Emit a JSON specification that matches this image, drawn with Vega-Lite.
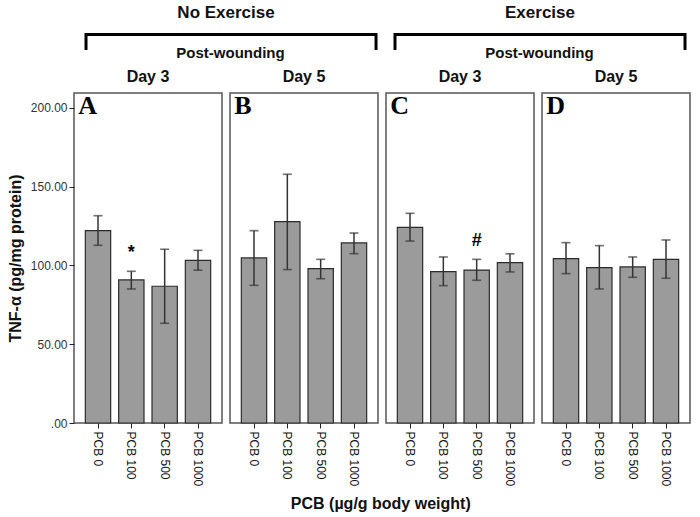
{
  "$schema": "https://vega.github.io/schema/vega-lite/v6.json",
  "padding": {"left": 6, "top": 3, "right": 5, "bottom": 5},
  "background": "white",
  "config": {
    "font": "Liberation Sans",
    "view": {"stroke": "#555555", "strokeWidth": 1.5},
    "axis": {"labelFont": "Liberation Sans", "labelFontSize": 12, "labelColor": "#111111", "tickColor": "#222222", "domain": false, "grid": false, "titleFont": "Liberation Sans", "titleFontSize": 16, "titleFontWeight": "bold", "titleColor": "#111111"},
    "title": {"font": "Liberation Sans", "fontSize": 16, "fontWeight": "bold", "color": "#111111"}
  },
  "datasets": {
    "bars": [
      {"panel": "A", "pcb": "PCB 0", "mean": 122.1, "lo": 112.8, "hi": 131.6, "mark": ""},
      {"panel": "A", "pcb": "PCB 100", "mean": 90.8, "lo": 85.1, "hi": 96.3, "mark": "*"},
      {"panel": "A", "pcb": "PCB 500", "mean": 86.8, "lo": 63.3, "hi": 110.3, "mark": ""},
      {"panel": "A", "pcb": "PCB 1000", "mean": 103.3, "lo": 97.0, "hi": 109.6, "mark": ""},
      {"panel": "B", "pcb": "PCB 0", "mean": 104.8, "lo": 87.4, "hi": 122.1, "mark": ""},
      {"panel": "B", "pcb": "PCB 100", "mean": 127.8, "lo": 97.4, "hi": 157.9, "mark": ""},
      {"panel": "B", "pcb": "PCB 500", "mean": 98.0, "lo": 91.6, "hi": 103.9, "mark": ""},
      {"panel": "B", "pcb": "PCB 1000", "mean": 114.3, "lo": 107.5, "hi": 120.6, "mark": ""},
      {"panel": "C", "pcb": "PCB 0", "mean": 124.2, "lo": 115.5, "hi": 133.1, "mark": ""},
      {"panel": "C", "pcb": "PCB 100", "mean": 96.1, "lo": 87.2, "hi": 105.4, "mark": ""},
      {"panel": "C", "pcb": "PCB 500", "mean": 97.1, "lo": 90.6, "hi": 103.9, "mark": "#"},
      {"panel": "C", "pcb": "PCB 1000", "mean": 101.8, "lo": 95.9, "hi": 107.4, "mark": ""},
      {"panel": "D", "pcb": "PCB 0", "mean": 104.3, "lo": 94.8, "hi": 114.5, "mark": ""},
      {"panel": "D", "pcb": "PCB 100", "mean": 98.6, "lo": 85.1, "hi": 112.6, "mark": ""},
      {"panel": "D", "pcb": "PCB 500", "mean": 99.1, "lo": 92.5, "hi": 105.4, "mark": ""},
      {"panel": "D", "pcb": "PCB 1000", "mean": 103.9, "lo": 91.9, "hi": 116.2, "mark": ""}
    ],
    "headers": [
      {"kind": "group", "label": "No Exercise", "hx": 0.2468, "hy": 0.89},
      {"kind": "group", "label": "Exercise", "hx": 0.7565, "hy": 0.89},
      {"kind": "sub", "label": "Post-wounding", "hx": 0.254, "hy": 0.445},
      {"kind": "sub", "label": "Post-wounding", "hx": 0.7557, "hy": 0.445}
    ],
    "brackets": [
      {"grp": "No Exercise", "seq": 1, "bx": 0.0195, "by": 0.478},
      {"grp": "No Exercise", "seq": 2, "bx": 0.0195, "by": 0.65},
      {"grp": "No Exercise", "seq": 3, "bx": 0.4903, "by": 0.65},
      {"grp": "No Exercise", "seq": 4, "bx": 0.4903, "by": 0.478},
      {"grp": "Exercise", "seq": 1, "bx": 0.5211, "by": 0.478},
      {"grp": "Exercise", "seq": 2, "bx": 0.5211, "by": 0.65},
      {"grp": "Exercise", "seq": 3, "bx": 0.9919, "by": 0.65},
      {"grp": "Exercise", "seq": 4, "bx": 0.9919, "by": 0.478}
    ]
  },
  "title": {"text": "PCB (µg/g body weight)", "orient": "bottom", "anchor": "middle", "fontSize": 16, "fontWeight": "bold", "offset": 10, "dx": 32},
  "bounds": "flush",
  "spacing": 0,
  "vconcat": [
    {
      "width": 616,
      "height": 90,
      "view": {"stroke": null},
      "layer": [
        {
          "data": {"name": "headers"},
          "transform": [{"filter": "datum.kind === 'group'"}],
          "mark": {"type": "text", "fontSize": 17, "fontWeight": "bold", "baseline": "middle", "color": "#111111"},
          "encoding": {
            "x": {"field": "hx", "type": "quantitative", "scale": {"domain": [0, 1], "nice": false, "zero": false}, "axis": null},
            "y": {"field": "hy", "type": "quantitative", "scale": {"domain": [0, 1], "nice": false, "zero": false}, "axis": null},
            "text": {"field": "label"}
          }
        },
        {
          "data": {"name": "headers"},
          "transform": [{"filter": "datum.kind === 'sub'"}],
          "mark": {"type": "text", "fontSize": 15, "fontWeight": "bold", "baseline": "middle", "color": "#111111"},
          "encoding": {
            "x": {"field": "hx", "type": "quantitative", "scale": {"domain": [0, 1], "nice": false, "zero": false}, "axis": null},
            "y": {"field": "hy", "type": "quantitative", "scale": {"domain": [0, 1], "nice": false, "zero": false}, "axis": null},
            "text": {"field": "label"}
          }
        },
        {
          "data": {"name": "brackets"},
          "mark": {"type": "line", "strokeWidth": 3, "color": "#000000", "strokeJoin": "miter", "strokeCap": "butt"},
          "encoding": {
            "x": {"field": "bx", "type": "quantitative", "scale": {"domain": [0, 1], "nice": false, "zero": false}, "axis": null},
            "y": {"field": "by", "type": "quantitative", "scale": {"domain": [0, 1], "nice": false, "zero": false}, "axis": null},
            "detail": {"field": "grp"},
            "order": {"field": "seq"}
          }
        }
      ]
    },
    {
      "bounds": "flush",
      "spacing": 8,
      "hconcat": [
        {
          "width": 148, "height": 330,
          "title": {"text": "Day 3", "offset": 8},
          "data": {"name": "bars"},
          "transform": [{"filter": "datum.panel === 'A'"}],
          "encoding": {
            "x": {"field": "pcb", "type": "nominal", "sort": ["PCB 0", "PCB 100", "PCB 500", "PCB 1000"], "title": null,
                  "scale": {"paddingInner": 0.24, "paddingOuter": 0.34},
                  "axis": {"labelAngle": 90, "labelAlign": "left", "labelBaseline": "middle", "tickSize": 5, "labelPadding": 3}}
          },
          "layer": [
            {"mark": {"type": "bar", "fill": "#9b9b9b", "stroke": "#2b2b2b", "strokeWidth": 1.2},
             "encoding": {"y": {"field": "mean", "type": "quantitative", "title": "TNF-α (pg/mg protein)", "scale": {"domain": [0, 209.5], "nice": false},
               "axis": {"values": [0, 50, 100, 150, 200], "labelExpr": "datum.value === 0 ? '.00' : format(datum.value, '.2f')", "tickSize": 5, "labelPadding": 2, "titlePadding": 7, "labelColor": "#333333"}}}},
            {"mark": {"type": "rule", "color": "#333333", "strokeWidth": 1.5},
             "encoding": {"y": {"field": "lo", "type": "quantitative", "title": "TNF-α (pg/mg protein)", "scale": {"domain": [0, 209.5], "nice": false}}, "y2": {"field": "hi"}}},
            {"mark": {"type": "tick", "color": "#333333", "thickness": 1.6, "size": 9},
             "encoding": {"y": {"field": "lo", "type": "quantitative", "title": "TNF-α (pg/mg protein)", "scale": {"domain": [0, 209.5], "nice": false}}}},
            {"mark": {"type": "tick", "color": "#333333", "thickness": 1.6, "size": 9},
             "encoding": {"y": {"field": "hi", "type": "quantitative", "title": "TNF-α (pg/mg protein)", "scale": {"domain": [0, 209.5], "nice": false}}}},
            {"transform": [{"filter": "datum.mark !== ''"}],
             "mark": {"type": "text", "fontSize": 18, "fontWeight": "bold", "baseline": "middle", "dy": -18, "color": "#000000"},
             "encoding": {"y": {"field": "hi", "type": "quantitative", "title": "TNF-α (pg/mg protein)", "scale": {"domain": [0, 209.5], "nice": false}}, "text": {"field": "mark"}}},
            {"transform": [{"filter": "datum.pcb === 'PCB 0'"}],
             "mark": {"type": "text", "font": "Liberation Serif", "fontSize": 26, "fontWeight": "bold", "align": "left", "baseline": "top", "dx": -7, "dy": 0, "color": "#000000"},
             "encoding": {"x": {"field": "pcb", "type": "nominal", "bandPosition": 0, "sort": ["PCB 0", "PCB 100", "PCB 500", "PCB 1000"], "title": null},
                          "y": {"datum": 209.5, "type": "quantitative", "scale": {"domain": [0, 209.5], "nice": false}},
                          "text": {"field": "panel"}}}
          ]
        },
        {
          "width": 148, "height": 330,
          "title": {"text": "Day 5", "offset": 8},
          "data": {"name": "bars"},
          "transform": [{"filter": "datum.panel === 'B'"}],
          "encoding": {
            "x": {"field": "pcb", "type": "nominal", "sort": ["PCB 0", "PCB 100", "PCB 500", "PCB 1000"], "title": null,
                  "scale": {"paddingInner": 0.24, "paddingOuter": 0.34},
                  "axis": {"labelAngle": 90, "labelAlign": "left", "labelBaseline": "middle", "tickSize": 5, "labelPadding": 3}}
          },
          "layer": [
            {"mark": {"type": "bar", "fill": "#9b9b9b", "stroke": "#2b2b2b", "strokeWidth": 1.2},
             "encoding": {"y": {"field": "mean", "type": "quantitative", "scale": {"domain": [0, 209.5], "nice": false}, "axis": null}}},
            {"mark": {"type": "rule", "color": "#333333", "strokeWidth": 1.5},
             "encoding": {"y": {"field": "lo", "type": "quantitative", "scale": {"domain": [0, 209.5], "nice": false}, "axis": null}, "y2": {"field": "hi"}}},
            {"mark": {"type": "tick", "color": "#333333", "thickness": 1.6, "size": 9},
             "encoding": {"y": {"field": "lo", "type": "quantitative", "scale": {"domain": [0, 209.5], "nice": false}, "axis": null}}},
            {"mark": {"type": "tick", "color": "#333333", "thickness": 1.6, "size": 9},
             "encoding": {"y": {"field": "hi", "type": "quantitative", "scale": {"domain": [0, 209.5], "nice": false}, "axis": null}}},
            {"transform": [{"filter": "datum.pcb === 'PCB 0'"}],
             "mark": {"type": "text", "font": "Liberation Serif", "fontSize": 26, "fontWeight": "bold", "align": "left", "baseline": "top", "dx": -7, "dy": 0, "color": "#000000"},
             "encoding": {"x": {"field": "pcb", "type": "nominal", "bandPosition": 0, "sort": ["PCB 0", "PCB 100", "PCB 500", "PCB 1000"], "title": null},
                          "y": {"datum": 209.5, "type": "quantitative", "scale": {"domain": [0, 209.5], "nice": false}, "axis": null},
                          "text": {"field": "panel"}}}
          ]
        },
        {
          "width": 148, "height": 330,
          "title": {"text": "Day 3", "offset": 8},
          "data": {"name": "bars"},
          "transform": [{"filter": "datum.panel === 'C'"}],
          "encoding": {
            "x": {"field": "pcb", "type": "nominal", "sort": ["PCB 0", "PCB 100", "PCB 500", "PCB 1000"], "title": null,
                  "scale": {"paddingInner": 0.24, "paddingOuter": 0.34},
                  "axis": {"labelAngle": 90, "labelAlign": "left", "labelBaseline": "middle", "tickSize": 5, "labelPadding": 3}}
          },
          "layer": [
            {"mark": {"type": "bar", "fill": "#9b9b9b", "stroke": "#2b2b2b", "strokeWidth": 1.2},
             "encoding": {"y": {"field": "mean", "type": "quantitative", "scale": {"domain": [0, 209.5], "nice": false}, "axis": null}}},
            {"mark": {"type": "rule", "color": "#333333", "strokeWidth": 1.5},
             "encoding": {"y": {"field": "lo", "type": "quantitative", "scale": {"domain": [0, 209.5], "nice": false}, "axis": null}, "y2": {"field": "hi"}}},
            {"mark": {"type": "tick", "color": "#333333", "thickness": 1.6, "size": 9},
             "encoding": {"y": {"field": "lo", "type": "quantitative", "scale": {"domain": [0, 209.5], "nice": false}, "axis": null}}},
            {"mark": {"type": "tick", "color": "#333333", "thickness": 1.6, "size": 9},
             "encoding": {"y": {"field": "hi", "type": "quantitative", "scale": {"domain": [0, 209.5], "nice": false}, "axis": null}}},
            {"transform": [{"filter": "datum.mark !== ''"}],
             "mark": {"type": "text", "fontSize": 18, "fontWeight": "bold", "baseline": "middle", "dy": -18, "color": "#000000"},
             "encoding": {"y": {"field": "hi", "type": "quantitative", "scale": {"domain": [0, 209.5], "nice": false}, "axis": null}, "text": {"field": "mark"}}},
            {"transform": [{"filter": "datum.pcb === 'PCB 0'"}],
             "mark": {"type": "text", "font": "Liberation Serif", "fontSize": 26, "fontWeight": "bold", "align": "left", "baseline": "top", "dx": -7, "dy": 0, "color": "#000000"},
             "encoding": {"x": {"field": "pcb", "type": "nominal", "bandPosition": 0, "sort": ["PCB 0", "PCB 100", "PCB 500", "PCB 1000"], "title": null},
                          "y": {"datum": 209.5, "type": "quantitative", "scale": {"domain": [0, 209.5], "nice": false}, "axis": null},
                          "text": {"field": "panel"}}}
          ]
        },
        {
          "width": 148, "height": 330,
          "title": {"text": "Day 5", "offset": 8},
          "data": {"name": "bars"},
          "transform": [{"filter": "datum.panel === 'D'"}],
          "encoding": {
            "x": {"field": "pcb", "type": "nominal", "sort": ["PCB 0", "PCB 100", "PCB 500", "PCB 1000"], "title": null,
                  "scale": {"paddingInner": 0.24, "paddingOuter": 0.34},
                  "axis": {"labelAngle": 90, "labelAlign": "left", "labelBaseline": "middle", "tickSize": 5, "labelPadding": 3}}
          },
          "layer": [
            {"mark": {"type": "bar", "fill": "#9b9b9b", "stroke": "#2b2b2b", "strokeWidth": 1.2},
             "encoding": {"y": {"field": "mean", "type": "quantitative", "scale": {"domain": [0, 209.5], "nice": false}, "axis": null}}},
            {"mark": {"type": "rule", "color": "#333333", "strokeWidth": 1.5},
             "encoding": {"y": {"field": "lo", "type": "quantitative", "scale": {"domain": [0, 209.5], "nice": false}, "axis": null}, "y2": {"field": "hi"}}},
            {"mark": {"type": "tick", "color": "#333333", "thickness": 1.6, "size": 9},
             "encoding": {"y": {"field": "lo", "type": "quantitative", "scale": {"domain": [0, 209.5], "nice": false}, "axis": null}}},
            {"mark": {"type": "tick", "color": "#333333", "thickness": 1.6, "size": 9},
             "encoding": {"y": {"field": "hi", "type": "quantitative", "scale": {"domain": [0, 209.5], "nice": false}, "axis": null}}},
            {"transform": [{"filter": "datum.pcb === 'PCB 0'"}],
             "mark": {"type": "text", "font": "Liberation Serif", "fontSize": 26, "fontWeight": "bold", "align": "left", "baseline": "top", "dx": -7, "dy": 0, "color": "#000000"},
             "encoding": {"x": {"field": "pcb", "type": "nominal", "bandPosition": 0, "sort": ["PCB 0", "PCB 100", "PCB 500", "PCB 1000"], "title": null},
                          "y": {"datum": 209.5, "type": "quantitative", "scale": {"domain": [0, 209.5], "nice": false}, "axis": null},
                          "text": {"field": "panel"}}}
          ]
        }
      ]
    }
  ]
}
